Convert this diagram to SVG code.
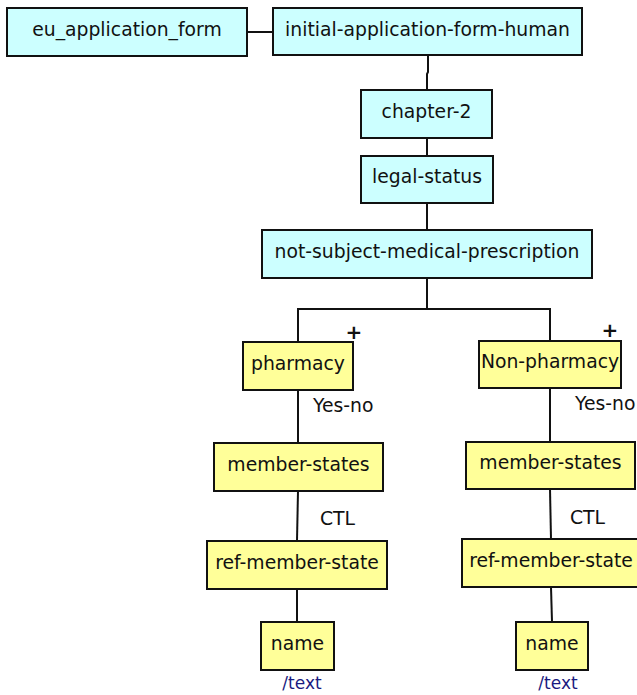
<svg xmlns="http://www.w3.org/2000/svg" width="637" height="695" viewBox="0 0 637 695">
<style>
.c{fill:#ccffff;stroke:#111;stroke-width:2}
.y{fill:#ffff99;stroke:#111;stroke-width:2}
text{font-family:"DejaVu Sans","Verdana",sans-serif;font-size:18.8px;fill:#111}
.m{text-anchor:middle}
.p{font-weight:bold;font-size:20px;text-anchor:middle}
.t{fill:#1a1a80;font-size:17px;text-anchor:middle}
.l{fill:none;stroke:#111;stroke-width:2}
</style>
<rect width="637" height="695" fill="#fff"/>
<g id="connectors" class="l">
<line x1="247" y1="32" x2="273" y2="32"/>
<polyline points="428,55 428,72 427,74 427,90"/>
<line x1="427" y1="138" x2="427" y2="156"/>
<line x1="427" y1="203" x2="427" y2="230"/>
<polyline points="427,278 427,309"/>
<polyline points="298,342 298,309 550,309 550,341"/>
<line x1="298" y1="390" x2="298" y2="443"/>
<line x1="298" y1="491" x2="297" y2="541"/>
<line x1="297" y1="589" x2="297" y2="622"/>
<line x1="550" y1="388" x2="550" y2="442"/>
<line x1="550" y1="489" x2="551" y2="539"/>
<line x1="551" y1="587" x2="552" y2="622"/>
</g>
<g id="labels">
<text x="313" y="412">Yes-no</text>
<text x="575" y="410">Yes-no</text>
<text x="320" y="525">CTL</text>
<text x="570" y="524">CTL</text>
<text class="p" x="354" y="339">+</text>
<text class="p" x="610" y="337">+</text>
<text class="t" x="302" y="689">/text</text>
<text class="t" x="558" y="689">/text</text>
</g>
<g id="eu_application_form"><rect class="c" x="7" y="8" width="240" height="48"/><text class="m" x="127" y="36">eu_application_form</text></g>
<g id="initial-application-form-human"><rect class="c" x="273" y="8" width="309" height="47"/><text class="m" x="427.5" y="36">initial-application-form-human</text></g>
<g id="chapter-2"><rect class="c" x="361" y="90" width="131" height="48"/><text class="m" x="426.5" y="118">chapter-2</text></g>
<g id="legal-status"><rect class="c" x="361" y="156" width="132" height="47"/><text class="m" x="427" y="183">legal-status</text></g>
<g id="not-subject-medical-prescription"><rect class="c" x="262" y="230" width="330" height="48"/><text class="m" x="427" y="258">not-subject-medical-prescription</text></g>
<g id="pharmacy"><rect class="y" x="243" y="342" width="110" height="48"/><text class="m" x="298" y="370">pharmacy</text></g>
<g id="non-pharmacy"><rect class="y" x="479" y="341" width="142" height="47"/><text class="m" x="550" y="368">Non-pharmacy</text></g>
<g id="member-states-1"><rect class="y" x="214" y="443" width="169" height="48"/><text class="m" x="298.5" y="471">member-states</text></g>
<g id="member-states-2"><rect class="y" x="466" y="442" width="169" height="47"/><text class="m" x="550.5" y="469">member-states</text></g>
<g id="ref-member-state-1"><rect class="y" x="207" y="541" width="180" height="48"/><text class="m" x="297" y="569">ref-member-state</text></g>
<g id="ref-member-state-2"><rect class="y" x="462" y="539" width="180" height="48"/><text class="m" x="551" y="567">ref-member-state</text></g>
<g id="name-1"><rect class="y" x="261" y="622" width="73" height="48"/><text class="m" x="297.5" y="650">name</text></g>
<g id="name-2"><rect class="y" x="516" y="622" width="72" height="48"/><text class="m" x="552" y="650">name</text></g>
</svg>
